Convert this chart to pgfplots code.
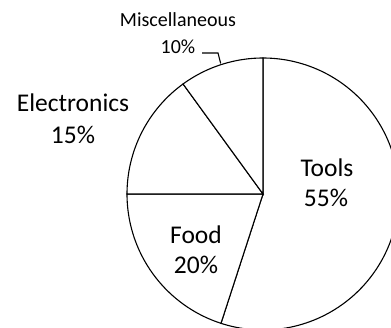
\documentclass[border=0pt]{standalone}
\usepackage{pgfplots}
\pgfplotsset{compat=1.18}
\usepackage{fontspec}
\setmainfont{Carlito}
\begin{document}
\begin{tikzpicture}
\begin{axis}[
  at={(0,0)}, anchor=south west,
  width=391pt, height=328pt, scale only axis,
  xmin=-1.9338, xmax=0.9412, ymin=-0.9853, ymax=1.4265,
  hide axis, clip=true,
]
% slices: Tools 55, Food 20, Electronics 15, Miscellaneous 10 (clockwise from top)
\addplot[black, line width=1.1pt, fill=white, domain=-108:90, samples=120, variable=\t] ({cos(t)},{sin(t)}) -- (axis cs:0,0) -- cycle;
\addplot[black, line width=1.1pt, fill=white, domain=-180:-108, samples=50, variable=\t] ({cos(t)},{sin(t)}) -- (axis cs:0,0) -- cycle;
\addplot[black, line width=1.1pt, fill=white, domain=126:180, samples=40, variable=\t] ({cos(t)},{sin(t)}) -- (axis cs:0,0) -- cycle;
\addplot[black, line width=1.1pt, fill=white, domain=90:126, samples=30, variable=\t] ({cos(t)},{sin(t)}) -- (axis cs:0,0) -- cycle;
\addplot[black, line width=1.1pt] coordinates {(-0.4485,1.0368) (-0.3309,1.0368) (-0.311,0.9596)};
\end{axis}
\begin{axis}[
  at={(0,0)}, anchor=south west,
  width=391pt, height=328pt, scale only axis,
  xmin=-1.9338, xmax=0.9412, ymin=-0.9853, ymax=1.4265,
  hide axis, clip=false,
]
\node[anchor=base, font=\fontsize{25.5}{30}\selectfont] at (axis cs:0.4706,0.1272) {Tools};
\node[anchor=base, font=\fontsize{25.5}{30}\selectfont] at (axis cs:0.463,-0.0956) {55\%};
\node[anchor=base, font=\fontsize{25.5}{30}\selectfont] at (axis cs:-0.4926,-0.3625) {Food};
\node[anchor=base, font=\fontsize{25.5}{30}\selectfont] at (axis cs:-0.4926,-0.583) {20\%};
\node[anchor=base, font=\fontsize{25.5}{30}\selectfont] at (axis cs:-1.397,0.605) {Electronics};
\node[anchor=base, font=\fontsize{25.5}{30}\selectfont] at (axis cs:-1.397,0.3728) {15\%};
\node[anchor=base, font=\fontsize{20}{24}\selectfont] at (axis cs:-0.625,1.232) {Miscellaneous};
\node[anchor=base, font=\fontsize{20}{24}\selectfont] at (axis cs:-0.625,1.0345) {10\%};
\end{axis}
\pgfresetboundingbox
\useasboundingbox (0,0) rectangle (391pt,328pt);
\end{tikzpicture}
\end{document}
